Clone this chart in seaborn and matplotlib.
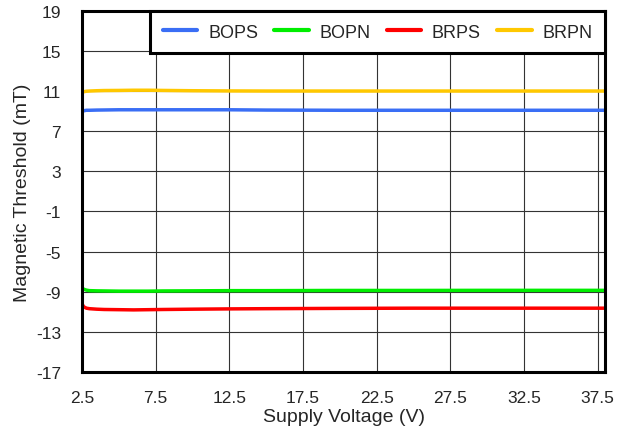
import numpy as np
import matplotlib.pyplot as plt
import pandas as pd
import seaborn as sns

# supply voltage sweep (V)
vcc = [2.5, 2.6, 2.8, 3.0, 3.5, 4.0, 5.0, 6.0, 7.0, 8.0, 10.0, 12.5, 15.0, 20.0, 25.0, 30.0, 35.0, 38.0]

# magnetic thresholds (mT)
bops = [8.9, 9.05, 9.1, 9.1, 9.12, 9.13, 9.15, 9.15, 9.15, 9.15, 9.15, 9.15, 9.12, 9.1, 9.1, 9.1, 9.1, 9.1]
bopn = [-8.6, -8.75, -8.85, -8.9, -8.92, -8.93, -8.95, -8.95, -8.95, -8.93, -8.92, -8.9, -8.9, -8.88, -8.88, -8.87, -8.87, -8.87]
brps = [-10.2, -10.5, -10.65, -10.7, -10.75, -10.78, -10.8, -10.82, -10.8, -10.78, -10.75, -10.72, -10.7, -10.67, -10.65, -10.65, -10.65, -10.65]
brpn = [10.8, 10.95, 11.0, 11.02, 11.05, 11.07, 11.08, 11.1, 11.1, 11.08, 11.05, 11.03, 11.02, 11.02, 11.02, 11.02, 11.02, 11.02]

names = ["BOPS", "BOPN", "BRPS", "BRPN"]
colors = ["#3a6ef5", "#00ee00", "#ff0000", "#ffc800"]

df = pd.concat([
    pd.DataFrame({"vcc": vcc, "val": v, "series": n})
    for n, v in zip(names, [bops, bopn, brps, brpn])
])

sns.set_style("white")
plt.rcParams['font.family'] = ['Liberation Sans', 'DejaVu Sans']
plt.rcParams['axes.unicode_minus'] = False

fig = plt.figure(figsize=(6.31, 4.31), dpi=100)
ax = fig.add_axes([0.130, 0.135, 0.829, 0.837])

sns.lineplot(data=df, x="vcc", y="val", hue="series", hue_order=names,
             palette=colors, linewidth=2.5, ax=ax)

ax.set_xlim(2.5, 38)
ax.set_ylim(-17, 19)
ax.set_xticks(np.arange(2.5, 38, 5))
ax.set_xticklabels([f"{t:g}" for t in np.arange(2.5, 38, 5)])
ax.set_yticks(np.arange(-17, 20, 4))
ax.grid(True, color="#333333", linewidth=0.8)
ax.tick_params(axis="x", labelsize=12.5, length=0, pad=13)
ax.tick_params(axis="y", labelsize=12.5, length=0, pad=15)
for s in ax.spines.values():
    s.set_linewidth(2.2)
    s.set_color("black")
ax.set_xlabel("Supply Voltage (V)", fontsize=14, labelpad=2)
ax.set_ylabel("Magnetic Threshold (mT)", fontsize=14, labelpad=4)

leg = ax.legend(loc="upper right", ncol=4, fontsize=13, fancybox=False,
                framealpha=1, edgecolor="black", handlelength=1.9,
                handletextpad=0.6, columnspacing=0.9, borderaxespad=0,
                borderpad=0.7, bbox_to_anchor=(1.0, 1.0))
leg.get_frame().set_linewidth(2.2)
for line in leg.get_lines():
    line.set_linewidth(3)

fig.savefig("out.png", dpi=100)
